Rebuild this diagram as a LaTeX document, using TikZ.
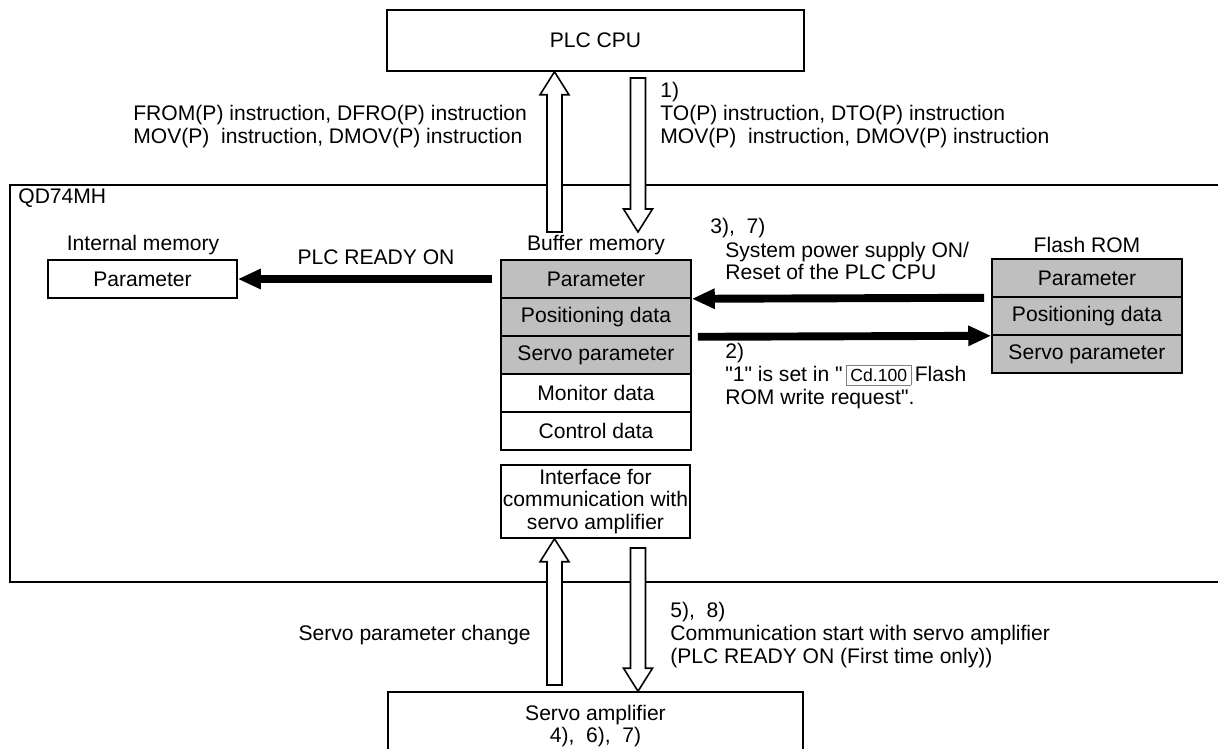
\documentclass[tikz,border=0pt]{standalone}
\usepackage{fontspec}
\setmainfont{Liberation Sans}[Ligatures=TeXOff]
\usetikzlibrary{arrows.meta,positioning,calc}

% hollow block arrow, vertical: #1 = tail, #2 = tip
\newcommand{\hollowarrow}[2]{%
  \draw[fatarrow] let \p1=(#1), \p2=(#2), \n1={\y2-sign(\y2-\y1)*0.46cm} in
    ({\x1-0.15cm},\y1) -- ({\x1-0.15cm},\n1) -- ({\x1-0.29cm},\n1)
    -- (\x1,\y2) -- ({\x1+0.29cm},\n1) -- ({\x1+0.15cm},\n1)
    -- ({\x1+0.15cm},\y1) -- cycle;}

\begin{document}
\begin{tikzpicture}[
    x=0.02cm, y=-0.02cm,
    font=\fontsize{12}{13}\selectfont,
    box/.style={draw, line width=0.9pt, inner sep=0pt, align=center},
    memrowG/.style={box, fill=black!25, minimum width=3.8cm, minimum height=0.76cm},
    memrowW/.style={box, fill=white, minimum width=3.8cm, minimum height=0.76cm},
    fatarrow/.style={draw, line width=0.9pt, fill=white},
    bararrow/.style={line width=4.5pt, -{Triangle[length=0.46cm, width=0.38cm]}},
    txt/.style={inner sep=0pt, align=left}
]

\useasboundingbox (0,0) rectangle (1218,748);

% QD74MH frame
\draw[line width=0.9pt] (1225,185) -- (10,185) -- (10,582) -- (1225,582);
\node[txt, anchor=west] (qdlbl) at (18,198) {QD74MH};

% PLC CPU and servo amplifier
\node[box, minimum width=8.34cm, minimum height=1.22cm] (plc) at (595.5,40.5) {PLC CPU};
\node[box, minimum width=8.3cm, minimum height=1.36cm] (servo) at (595.5,726) {Servo amplifier\\4),\ \ 6),\ \ 7)};

\node[txt, anchor=west] (fromtxt) at (133,126.5)
  {FROM(P) instruction, DFRO(P) instruction\\MOV(P)\ \ instruction, DMOV(P) instruction};
\node[txt, anchor=west] (totxt) at (660,115)
  {1)\\TO(P) instruction, DTO(P) instruction\\MOV(P)\ \ instruction, DMOV(P) instruction};

% internal memory
\node[txt] (intlbl) at (143,245) {Internal memory};
\node[box, minimum width=3.78cm, minimum height=0.76cm] (ipar) at (142.5,279) {Parameter};

% buffer memory
\node[txt] (buflbl) at (596,245) {Buffer memory};
\node[memrowG] (bpar) at (596,279) {Parameter};
\node[memrowG] (bpos) at (596,317) {Positioning data};
\node[memrowG] (bservo) at (596,355) {Servo parameter};
\node[memrowW] (bmon) at (596,393) {Monitor data};
\node[memrowW] (bctl) at (596,431) {Control data};

\node[box, minimum width=3.78cm, minimum height=1.46cm] (intf) at (595.5,501.5)
  {Interface for\\communication with\\servo amplifier};

% flash ROM
\node[txt] (flashlbl) at (1087,245) {Flash ROM};
\node[memrowG] (fpar) at (1087,278) {Parameter};
\node[memrowG] (fpos) at (1087,316) {Positioning data};
\node[memrowG] (fservo) at (1087,354) {Servo parameter};

% black arrows
\draw[bararrow] ([xshift=-0.16cm]bpar.west) -- (ipar.east);
\node[txt] (readylbl) at (376,257) {PLC READY ON};
\draw[bararrow] ([xshift=-0.14cm]fpar.south west) -- (bpar.south east);
\draw[bararrow] ([xshift=0.12cm]bpos.south east) -- (fpos.south west);

\node[txt, anchor=west] (n37) at (710,228) {3),\ \ 7)};
\node[txt, anchor=west] (powertxt) at (725,261) {System power supply ON/\\Reset of the PLC CPU};
\node[txt, anchor=west] (writetxt) at (725,376)
  {2)\\"1" is set in "\,{\setlength{\fboxsep}{2pt}\fcolorbox{gray}{white}{\fontsize{10}{10}\selectfont Cd.100}}\,Flash\\ROM write request".};

% hollow arrows
\coordinate (upA) at (554.5,232);
\coordinate (dnA) at (638,78);
\coordinate (dnAtip) at (638,232);
\coordinate (upB) at (554.5,685);
\coordinate (dnB) at (638,548);
\hollowarrow{upA}{plc.south -| upA}
\hollowarrow{dnA}{dnAtip}
\hollowarrow{upB}{intf.south -| upB}
\hollowarrow{dnB}{servo.north -| dnB}

\node[txt, anchor=east] (changetxt) at (531,635) {Servo parameter change};
\node[txt, anchor=west] (commtxt) at (670,635)
  {5),\ \ 8)\\Communication start with servo amplifier\\(PLC READY ON (First time only))};

\end{tikzpicture}
\end{document}
